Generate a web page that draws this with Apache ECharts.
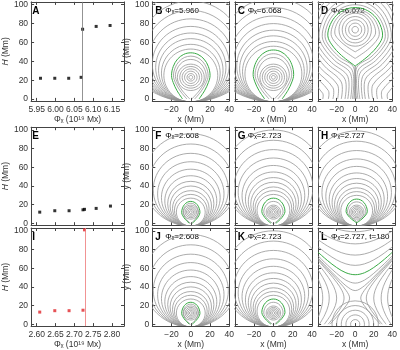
<!DOCTYPE html>
<html>
<head>
<meta charset="utf-8">
<script src="https://cdn.jsdelivr.net/npm/echarts@6/dist/echarts.min.js"></script>
<style>
html, body { margin: 0; padding: 0; background: #fff; }
#chart { width: 400px; height: 350px; }
</style>
</head>
<body>
<div id="chart"></div>
<script>
//----------------------Data: H vs flux----------------------
let phiA = [5.960, 5.998, 6.035, 6.068, 6.072, 6.108, 6.145];
let hA = [22, 22, 22, 23, 74, 77, 78];
let phiE = [2.608, 2.648, 2.686, 2.723, 2.727, 2.758, 2.796];
let hE = [12, 13.5, 13.5, 14.5, 15, 16, 18.5];
let phiI = [2.608, 2.648, 2.686, 2.723, 2.727];
let hI = [13, 14.5, 14.5, 15, 101];
let critA = 6.07;
let critI = 2.727;
let ticksA = [5.95, 6.00, 6.05, 6.10, 6.15];
let ticksI = [2.60, 2.65, 2.70, 2.75, 2.80];
let ticksH = [0, 20, 40, 60, 80, 100];
let ticksX = [-40, -20, 0, 20, 40];
let labelsX = [-20, 0, 20, 40];

//----------------------Data: field lines----------------------
// rings: round lines, given by where they cut x=0 -> [lower y, upper y]
// arches: symmetric lines -> [foot x, foot y, neck y, half width, y of widest, top y]
// paths: left half points (if first x is 0 the line is mirrored into one curve)
let ringsB = [[21, 25], [19, 27], [16.5, 29.5], [14, 32], [11.5, 34.5], [9, 37]];
let tearsB = [[1, 0, 0, 16, 24, 42], [4, 0, 0, 18, 24.5, 45.5]];
let greenB = [[8.5, 0, 0, 20, 25, 49]];
let arcsB = [[-3, 53], [-3, 58], [-3, 64], [-3, 70], [-3, 77], [-3, 85], [-3, 94], [-3, 104], [-3, 115], [-3, 127], [-3, 140], [-3, 155]];

let ringsC = [[21, 25], [19, 27], [16.5, 29.5], [14, 32], [11.5, 34.5], [9, 37]];
let tearsC = [[1, 0, 0, 16.5, 25, 44], [4.5, 0, 0, 19, 25.5, 48]];
let greenC = [[9, 0, 0, 21, 26, 52]];
let arcsC = [[-3, 56], [-3, 61], [-3, 67], [-3, 73], [-3, 80], [-3, 88], [-3, 97], [-3, 107], [-3, 118], [-3, 130], [-3, 143], [-3, 158]];

let ringsD = [[70, 77], [66.5, 80.5], [63, 84], [59.5, 87.5], [56, 91]];
let tearsD = [[0, 50, 50, 22, 70, 93], [0, 43, 43, 26, 68.5, 95]];
let greenD = [[0, 35, 35, 29.5, 67, 97]];
let stemD = [[[0, 0], [0, 35]]];
let archesD = [[1.5, 0, 33, 32.5, 66, 100], [3, 0, 30, 35.5, 66, 104], [5, 0, 27, 39, 66, 108], [8, 0, 24, 43, 66, 113],
    [11, 0, 21, 47, 66, 118], [15, 0, 18, 51, 66, 124], [19, 0, 15, 56, 66, 130], [24, 0, 12, 61, 66, 137],
    [29, 0, 9, 67, 66, 144], [35, 0, 6, 73, 66, 152]];

let ringsF = [[10.5, 13.5], [9, 15], [7.5, 16.5], [6, 18], [4.5, 19.5]];
let tearsF = [[0.5, 0, 0, 8, 11.5, 21.5]];
let greenF = [[1.5, 0, 0, 9.5, 11.5, 23.5]];
let arcsF = [[-3, 27], [-3, 31], [-3, 35], [-3, 40], [-3, 45], [-3, 51], [-3, 58], [-3, 66], [-3, 75], [-3, 85], [-3, 96]];

let ringsG = [[10.5, 13.5], [9, 15], [7.5, 16.5], [6, 18], [4.5, 19.5]];
let tearsG = [[1, 0, 0, 10, 12, 23.5]];
let greenG = [[2.5, 0, 0, 12, 12.5, 27]];
let arcsG = [[-3, 31], [-3, 35], [-3, 39], [-3, 44], [-3, 49], [-3, 55], [-3, 62], [-3, 70], [-3, 79], [-3, 89], [-3, 100]];

let ringsH = [[10.5, 13.5], [9, 15], [7.5, 16.5], [6, 18], [4.5, 19.5]];
let tearsH = [[0, 2, 2, 9.5, 12, 23]];
let greenH = [[0, 0.5, 0.5, 11, 12.5, 26]];
let arcsH = [[-3, 30], [-3, 34], [-3, 38], [-3, 43], [-3, 48], [-3, 54], [-3, 61], [-3, 69], [-3, 78], [-3, 88], [-3, 99]];

let greenL = [[[0, 53], [-10, 55.1], [-20, 60.7], [-30, 68.3], [-40, 77]]];
let valleysL = [
    [[0, 36], [-10, 41.2], [-20, 50.5], [-30, 60.6], [-40, 70.9]],
    [[0, 44], [-10, 47.2], [-20, 54.5], [-30, 63.4], [-40, 73.1]],
    [[0, 63], [-10, 64.6], [-20, 68.9], [-30, 75.2], [-40, 82.8]],
    [[0, 74], [-10, 75.2], [-20, 78.6], [-30, 83.8], [-40, 90.4]],
    [[0, 86], [-10, 87], [-20, 89.7], [-30, 94.1], [-40, 99.7]],
    [[0, 99], [-10, 99.8], [-20, 102.1], [-30, 105.7], [-40, 110]]
];
let sidesL = [
    [[-27.2, 0], [-18.1, 10], [-9.7, 20], [-6, 28], [-9.7, 36], [-17.2, 45], [-26.3, 55], [-40, 69.7]],
    [[-29.2, 0], [-20.9, 10], [-14.2, 20], [-12, 28], [-14.2, 36], [-20.1, 45], [-28.3, 55], [-40, 68.2]],
    [[-33.3, 0], [-26.3, 10], [-21.4, 20], [-20, 28], [-21.4, 36], [-25.7, 45], [-32.5, 55], [-40, 64.5]],
    [[-38.6, 0], [-32.8, 10], [-29, 20], [-28, 28], [-29, 36], [-32.3, 45], [-37.9, 55], [-40, 58.1]],
    [[-40, 7.6], [-38.9, 10], [-35.8, 20], [-35, 28], [-35.8, 36], [-38.5, 45], [-40, 48.4]]
];
let domesL = [[-5, 5], [-10, 10], [-15, 15], [-20, 20], [-25, 25]];

//----------------------Location----------------------
let col_left = [29.3, 152.3, 234.8, 318.1];
let col_width = [94.7, 77, 77.2, 77.2];
let row_top = [1.9, 127.2, 228];
let row_height = [99, 98, 103];
let FONT = '"Liberation Sans", Arial, sans-serif';
let GRAY = '#969696';
let GREEN = '#3aaa46';
let AXIS = '#444';

let chart_dom = document.getElementById('chart');
let chart = echarts.init(chart_dom);

let grids = [], xAxes = [], yAxes = [], series = [], graphics = [];

function fmtNum(v, d) {
    let s = v.toFixed(d);
    return v < 0 ? '\u2212' + s.slice(1) : s;
}

function addPanel(row, col, opt) {
    let gi = grids.length;
    grids.push({left: col_left[col], top: row_top[row], width: col_width[col], height: row_height[row]});
    let line = {show: true, onZero: false, lineStyle: {color: AXIS, width: 1}};
    let labelStyle = {fontSize: 8.5, color: '#333', fontFamily: FONT};
    let xt = {show: true, inside: true, length: 3, lineStyle: {color: AXIS}, customValues: opt.xticks};
    let yt = {show: true, inside: true, length: 3, lineStyle: {color: AXIS}, customValues: ticksH};
    xAxes.push({
        gridIndex: gi, type: 'value', position: 'bottom', min: opt.xmin, max: opt.xmax,
        axisLine: line, axisTick: xt, splitLine: {show: false},
        axisLabel: Object.assign({show: !!opt.xlabels, customValues: opt.xlabels || opt.xticks, margin: 4,
            formatter: v => fmtNum(v, opt.xdec)}, labelStyle),
        name: opt.xlabels ? opt.xname : '', nameLocation: 'middle', nameGap: 12,
        nameTextStyle: {fontSize: 8.5, color: '#333', fontFamily: FONT}
    });
    xAxes.push({
        gridIndex: gi, type: 'value', position: 'top', min: opt.xmin, max: opt.xmax,
        axisLine: line, axisTick: xt, splitLine: {show: false}, axisLabel: {show: false}
    });
    yAxes.push({
        gridIndex: gi, type: 'value', position: 'left', min: -2, max: 103,
        axisLine: line, axisTick: yt, splitLine: {show: false},
        axisLabel: Object.assign({show: !!opt.ylabels, customValues: ticksH, margin: 3}, labelStyle),
        name: opt.ylabels ? opt.yname : '', nameLocation: 'middle', nameGap: opt.ygap || 15,
        nameTextStyle: {fontSize: 8.5, color: '#333', fontFamily: FONT, rich: {i: {fontStyle: 'italic', fontSize: 8.5, fontFamily: FONT, color: '#333'}}}
    });
    yAxes.push({
        gridIndex: gi, type: 'value', position: 'right', min: -2, max: 103,
        axisLine: line, axisTick: yt, splitLine: {show: false}, axisLabel: {show: false}
    });
    // panel letter and flux text
    graphics.push({type: 'text', left: col_left[col] + 3, top: row_top[row] + 4,
        style: {text: opt.letter, font: 'bold 10px ' + FONT, fill: '#000'}});
    if (opt.phi) {
        graphics.push({type: 'text', left: col_left[col] + 13, top: row_top[row] + 5,
            style: {text: opt.phi, font: '8px ' + FONT, fill: '#000'}});
    }
    return {x: xAxes.length - 2, y: yAxes.length - 2};
}

//----------------------Field line shapes----------------------
function mirrorJoin(left) {
    let out = left.slice();
    for (let i = left.length - 2; i >= 0; i--) out.push([-left[i][0], left[i][1]]);
    return out;
}
function archPts(a) {
    let f = a[0], y0 = a[1], n = a[2], w = a[3], yb = a[4], t = a[5];
    let pts = [[-f, y0]];
    if (n > y0) pts.push([-f, n]);
    let dw = w - f, h0 = yb - n, h = t - yb;
    pts.push([-(f + 0.5 * dw), n + 0.35 * h0], [-(f + 0.85 * dw), n + 0.7 * h0], [-w, yb],
        [-0.91 * w, yb + 0.4 * h], [-0.69 * w, yb + 0.72 * h], [-0.37 * w, yb + 0.93 * h], [0, t]);
    return mirrorJoin(pts);
}
function pathLines(p) {
    if (p[0][0] === 0) return [mirrorJoin(p.slice().reverse())];
    return [p, p.map(q => [-q[0], q[1]])];
}
function buildLines(rings, arches, paths) {
    let out = [];
    (rings || []).forEach(r => out.push({ring: r}));
    (arches || []).forEach(a => out.push({pts: archPts(a)}));
    (paths || []).forEach(p => pathLines(p).forEach(q => out.push({pts: q})));
    return out;
}
function fieldSeries(ax, items, color, width) {
    return {
        type: 'custom', xAxisIndex: ax.x, yAxisIndex: ax.y, clip: true, silent: true,
        data: items.map((it, i) => [i]),
        renderItem: function (params, api) {
            let it = items[params.dataIndex];
            let style = {fill: 'none', stroke: color, lineWidth: width};
            if (it.ring) {
                let lo = it.ring[0], hi = it.ring[1], r = (hi - lo) / 2;
                let c = api.coord([0, (lo + hi) / 2]);
                return {type: 'ellipse', shape: {cx: c[0], cy: c[1], rx: api.size([r, 0])[0], ry: api.size([0, r])[1]}, style: style};
            }
            return {type: 'polyline', shape: {points: it.pts.map(p => api.coord(p)), smooth: 0.35}, style: style};
        }
    };
}

//----------------------Scatter panels----------------------
function scatterPanel(row, letter, phi, h, crit, ticks, xlabels, color, lineColor) {
    let xmin = ticks[0] - 0.015, xmax = ticks[ticks.length - 1] + 0.032;
    let ax = addPanel(row, 0, {letter: letter, xmin: xmin, xmax: xmax, xticks: ticks, xlabels: xlabels ? ticks : null,
        xdec: 2, xname: '\u03A6\u2093 (10\u00B9\u2079 Mx)', ylabels: true, yname: '{i|H} (Mm)', ygap: 17});
    let s = {
        type: 'scatter', xAxisIndex: ax.x, yAxisIndex: ax.y, symbol: 'rect', symbolSize: 3,
        itemStyle: {color: color}, data: phi.map((p, i) => [p, h[i]]), clip: false, silent: true
    };
    if (crit !== null) {
        s.markLine = {symbol: 'none', silent: true, label: {show: false},
            lineStyle: {color: lineColor, type: 'solid', width: 0.8}, data: [{xAxis: crit}]};
    }
    series.push(s);
}
scatterPanel(0, 'A', phiA, hA, critA, ticksA, true, '#000', '#777');
scatterPanel(1, 'E', phiE, hE, null, ticksI, false, '#000', '#777');
scatterPanel(2, 'I', phiI, hI, critI, ticksI, true, '#e0262b', '#ee7777');

//----------------------Contour panels----------------------
let contourPanels = [
    {row: 0, col: 1, letter: 'B', phi: '\u03A6\u2093=5.960', gray: buildLines(ringsB.concat(arcsB), tearsB), green: buildLines(null, greenB)},
    {row: 0, col: 2, letter: 'C', phi: '\u03A6\u2093=6.068', gray: buildLines(ringsC.concat(arcsC), tearsC), green: buildLines(null, greenC)},
    {row: 0, col: 3, letter: 'D', phi: '\u03A6\u2093=6.072', gray: buildLines(ringsD, tearsD.concat(archesD), stemD), green: buildLines(null, greenD)},
    {row: 1, col: 1, letter: 'F', phi: '\u03A6\u2093=2.608', gray: buildLines(ringsF.concat(arcsF), tearsF), green: buildLines(null, greenF)},
    {row: 1, col: 2, letter: 'G', phi: '\u03A6\u2093=2.723', gray: buildLines(ringsG.concat(arcsG), tearsG), green: buildLines(null, greenG)},
    {row: 1, col: 3, letter: 'H', phi: '\u03A6\u2093=2.727', gray: buildLines(ringsH.concat(arcsH), tearsH), green: buildLines(null, greenH)},
    {row: 2, col: 1, letter: 'J', phi: '\u03A6\u2093=2.608', gray: buildLines(ringsF.concat(arcsF), tearsF), green: buildLines(null, greenF)},
    {row: 2, col: 2, letter: 'K', phi: '\u03A6\u2093=2.723', gray: buildLines(ringsG.concat(arcsG), tearsG), green: buildLines(null, greenG)},
    {row: 2, col: 3, letter: 'L', phi: '\u03A6\u2093=2.727, t=180', gray: buildLines(domesL, null, valleysL.concat(sidesL)), green: buildLines(null, null, greenL)}
];
contourPanels.forEach(p => {
    let withX = p.row !== 1;
    let ax = addPanel(p.row, p.col, {letter: p.letter, phi: p.phi, xmin: -40, xmax: 40, xticks: ticksX,
        xlabels: withX ? labelsX : null, xdec: 0, xname: 'x (Mm)', ylabels: p.col === 1, yname: 'y (Mm)', ygap: 15});
    series.push(fieldSeries(ax, p.gray, GRAY, 0.8));
    series.push(fieldSeries(ax, p.green, GREEN, 1));
});

//------------------Generate Graph------------------
let option = {
    backgroundColor: '#fff',
    animation: false,
    grid: grids,
    xAxis: xAxes,
    yAxis: yAxes,
    series: series,
    graphic: graphics,
    tooltip: {show: false}
};
chart.setOption(option, true);
</script>
</body>
</html>
